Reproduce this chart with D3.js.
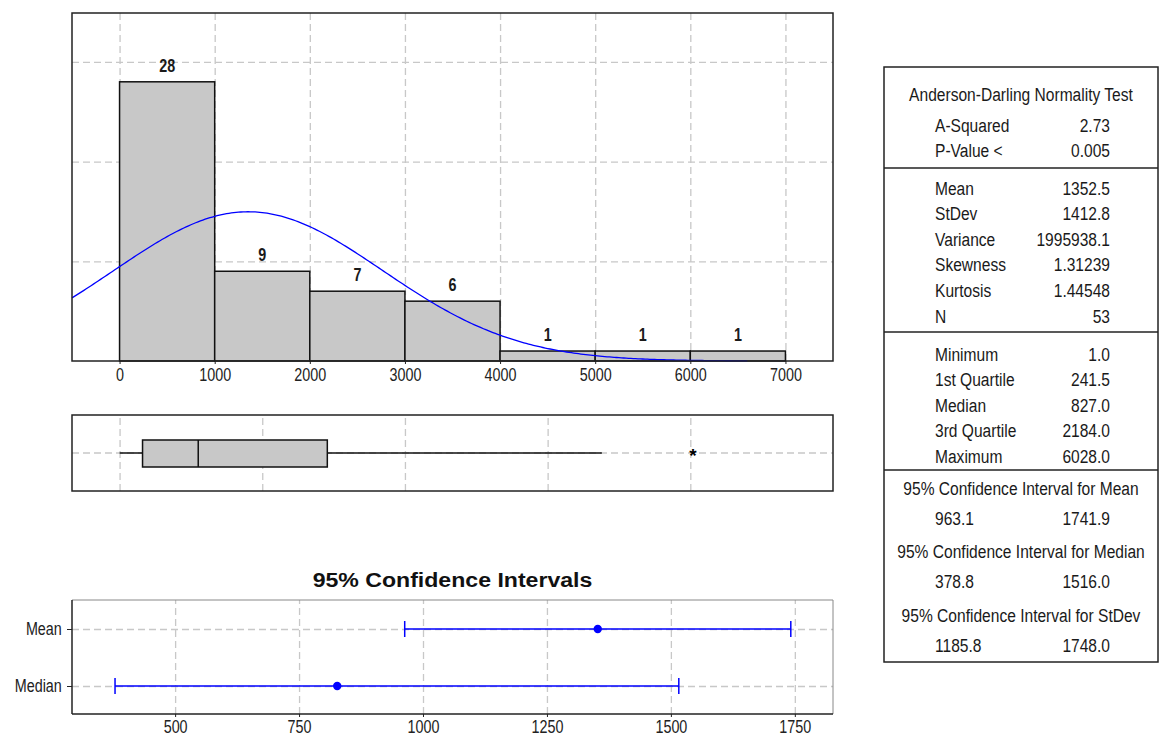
<!DOCTYPE html>
<html>
<head>
<meta charset="utf-8">
<script src="https://cdn.jsdelivr.net/npm/d3@7"></script>
<style>
  body { margin: 0; background: #fff; }
  svg { font-family: "Liberation Sans", Arial, sans-serif; }
  .grid line { stroke: #c8c8c8; stroke-width: 1.3; stroke-dasharray: 7,4; }
  .grid path { display: none; }
  .axis path { display: none; }
  .axis line { stroke: #222; }
  .axis text { font-size: 17.5px; fill: #222; }
</style>
</head>
<body>
<svg id="chart" width="1159" height="738"></svg>
<script>
// histogram
var binEdges = [0, 1000, 2000, 3000, 4000, 5000, 6000, 7000];
var binCounts = [28, 9, 7, 6, 1, 1, 1];
var histTicks = [0, 1000, 2000, 3000, 4000, 5000, 6000, 7000];
var countGrid = [10, 20, 30];

// normal fit (from the summary stats)
var fitMean = 1352.5, fitStDev = 1412.8, fitN = 53, binWidth = 1000;

// boxplot
var boxStats = { min: 1, q1: 241.5, median: 827, q3: 2184, whiskerHi: 5070 };
var outliers = [6028];
var boxGrid = [0, 1500, 3000, 4500, 6000];

// confidence intervals
var ciRows = ["Mean", "Median"];
var ciLow = [963.1, 378.8];
var ciHigh = [1741.9, 1516.0];
var ciEst = [1352.5, 827.0];
var ciTicks = [500, 750, 1000, 1250, 1500, 1750];

// summary table
var adLabels = ["A-Squared", "P-Value <"];
var adValues = ["2.73", "0.005"];
var momentLabels = ["Mean", "StDev", "Variance", "Skewness", "Kurtosis", "N"];
var momentValues = ["1352.5", "1412.8", "1995938.1", "1.31239", "1.44548", "53"];
var quartLabels = ["Minimum", "1st Quartile", "Median", "3rd Quartile", "Maximum"];
var quartValues = ["1.0", "241.5", "827.0", "2184.0", "6028.0"];
var ciTitles = ["95% Confidence Interval for Mean", "95% Confidence Interval for Median", "95% Confidence Interval for StDev"];
var ciTableLow = ["963.1", "378.8", "1185.8"];
var ciTableHigh = ["1741.9", "1516.0", "1748.0"];

var svg = d3.select('#chart');
var left = 72, right = 833;
var squeeze = 'scale(0.82,1)';   // the original font is a narrow one

// narrow text helper
function ntext(parent, px, py, str, size, anchor, weight) {
    return parent.append('text')
        .attr('transform', 'translate(' + px + ',' + py + ') ' + squeeze)
        .attr('dy', '0.35em')
        .attr('text-anchor', anchor || 'start')
        .attr('font-size', size + 'px')
        .attr('font-weight', weight || 'normal')
        .attr('fill', '#1a1a1a')
        .text(str);
}

// ---------- histogram ----------
var hTop = 13, hBot = 361;
var x = d3.scaleLinear().domain([-500, 7500]).range([left, right]);
var y = d3.scaleLinear().domain([0, 34.9]).range([hBot, hTop]);

svg.append('g').attr('class', 'grid')
    .attr('transform', 'translate(0,' + hBot + ')')
    .call(d3.axisBottom(x).tickValues(histTicks).tickSize(-(hBot - hTop)).tickFormat(''));
svg.append('g').attr('class', 'grid')
    .attr('transform', 'translate(' + left + ',0)')
    .call(d3.axisLeft(y).tickValues(countGrid).tickSize(-(right - left)).tickFormat(''));

var bins = binCounts.map(function (c, i) { return { x0: binEdges[i], x1: binEdges[i + 1], n: c }; });
svg.selectAll('rect.bar').data(bins).enter().append('rect')
    .attr('class', 'bar')
    .attr('x', function (d) { return x(d.x0); })
    .attr('y', function (d) { return y(d.n); })
    .attr('width', function (d) { return x(d.x1) - x(d.x0); })
    .attr('height', function (d) { return y(0) - y(d.n); })
    .attr('fill', '#c8c8c8')
    .attr('stroke', '#111')
    .attr('stroke-width', 1.5);

bins.forEach(function (d) {
    ntext(svg, x((d.x0 + d.x1) / 2), y(d.n) - 16, d.n, 17.5, 'middle', 'bold');
});

var curveX = d3.range(-500, 6601, 25);
var line = d3.line()
    .x(function (v) { return x(v); })
    .y(function (v) {
        var z = (v - fitMean) / fitStDev;
        return y(fitN * binWidth * Math.exp(-0.5 * z * z) / (fitStDev * Math.sqrt(2 * Math.PI)));
    });
svg.append('path').datum(curveX)
    .attr('d', line)
    .attr('fill', 'none')
    .attr('stroke', '#0000ff')
    .attr('stroke-width', 1.3);

svg.append('rect').attr('x', left).attr('y', hTop).attr('width', right - left).attr('height', hBot - hTop)
    .attr('fill', 'none').attr('stroke', '#222').attr('stroke-width', 1.5);

svg.append('g').attr('class', 'axis')
    .attr('transform', 'translate(0,' + hBot + ')')
    .call(d3.axisBottom(x).tickValues(histTicks).tickSize(3).tickPadding(5).tickFormat(d3.format('d')))
    .selectAll('text').attr('transform', squeeze);

// ---------- boxplot ----------
var bTop = 415, bBot = 491, bMid = (bTop + bBot) / 2;
svg.append('g').attr('class', 'grid')
    .attr('transform', 'translate(0,' + bBot + ')')
    .call(d3.axisBottom(x).tickValues(boxGrid).tickSize(-(bBot - bTop)).tickFormat(''));
svg.append('line').attr('x1', left).attr('x2', right).attr('y1', bMid).attr('y2', bMid)
    .attr('stroke', '#c8c8c8').attr('stroke-width', 1.3).attr('stroke-dasharray', '7,4');

svg.append('line').attr('x1', x(boxStats.min)).attr('x2', x(boxStats.q1)).attr('y1', bMid).attr('y2', bMid)
    .attr('stroke', '#111').attr('stroke-width', 1.5);
svg.append('line').attr('x1', x(boxStats.q3)).attr('x2', x(boxStats.whiskerHi)).attr('y1', bMid).attr('y2', bMid)
    .attr('stroke', '#111').attr('stroke-width', 1.5);
svg.append('rect').attr('x', x(boxStats.q1)).attr('y', bMid - 13)
    .attr('width', x(boxStats.q3) - x(boxStats.q1)).attr('height', 27)
    .attr('fill', '#c8c8c8').attr('stroke', '#111').attr('stroke-width', 1.5);
svg.append('line').attr('x1', x(boxStats.median)).attr('x2', x(boxStats.median))
    .attr('y1', bMid - 13).attr('y2', bMid + 14).attr('stroke', '#111').attr('stroke-width', 1.5);
svg.selectAll('text.out').data(outliers).enter().append('text')
    .attr('class', 'out')
    .attr('x', function (d) { return x(d); })
    .attr('y', bMid + 9)
    .attr('text-anchor', 'middle')
    .attr('font-size', '19px')
    .attr('font-weight', 'bold')
    .text('*');
svg.append('rect').attr('x', left).attr('y', bTop).attr('width', right - left).attr('height', bBot - bTop)
    .attr('fill', 'none').attr('stroke', '#222').attr('stroke-width', 1.5);

// ---------- confidence intervals ----------
var cTop = 600, cBot = 714;
var cx = d3.scaleLinear().domain([292, 1825]).range([left, right - 1]);
var cy = d3.scalePoint().domain(ciRows).range([629, 686]);

svg.append('text')
    .attr('transform', 'translate(' + ((left + right) / 2) + ',587) scale(1.1,1)')
    .attr('text-anchor', 'middle').attr('font-size', '21px').attr('font-weight', 'bold')
    .attr('fill', '#111').text('95% Confidence Intervals');

svg.append('g').attr('class', 'grid')
    .attr('transform', 'translate(0,' + cBot + ')')
    .call(d3.axisBottom(cx).tickValues(ciTicks).tickSize(-(cBot - cTop)).tickFormat(''));
svg.append('g').attr('class', 'grid')
    .attr('transform', 'translate(' + left + ',0)')
    .call(d3.axisLeft(cy).tickSize(-(right - left)).tickFormat(''));

ciRows.forEach(function (r, i) {
    var yy = cy(r);
    var g = svg.append('g').attr('stroke', '#0000ff').attr('stroke-width', 1.5);
    g.append('line').attr('x1', cx(ciLow[i])).attr('x2', cx(ciHigh[i])).attr('y1', yy).attr('y2', yy);
    g.append('line').attr('x1', cx(ciLow[i])).attr('x2', cx(ciLow[i])).attr('y1', yy - 8).attr('y2', yy + 8);
    g.append('line').attr('x1', cx(ciHigh[i])).attr('x2', cx(ciHigh[i])).attr('y1', yy - 8).attr('y2', yy + 8);
    svg.append('circle').attr('cx', cx(ciEst[i])).attr('cy', yy).attr('r', 4.2).attr('fill', '#0000ff');
});

svg.append('line').attr('x1', left).attr('x2', right).attr('y1', cTop).attr('y2', cTop).attr('stroke', '#888').attr('stroke-width', 1);
svg.append('line').attr('x1', right).attr('x2', right).attr('y1', cTop).attr('y2', cBot).attr('stroke', '#888').attr('stroke-width', 1);
svg.append('line').attr('x1', left).attr('x2', left).attr('y1', cTop).attr('y2', cBot).attr('stroke', '#222').attr('stroke-width', 1.5);
svg.append('line').attr('x1', left).attr('x2', right).attr('y1', cBot).attr('y2', cBot).attr('stroke', '#222').attr('stroke-width', 1.5);

svg.append('g').attr('class', 'axis')
    .attr('transform', 'translate(0,' + cBot + ')')
    .call(d3.axisBottom(cx).tickValues(ciTicks).tickSize(3).tickPadding(4).tickFormat(d3.format('d')))
    .selectAll('text').attr('transform', squeeze);
svg.append('g').attr('class', 'axis')
    .attr('transform', 'translate(' + left + ',0)')
    .call(d3.axisLeft(cy).tickSize(5).tickPadding(5))
    .selectAll('text').attr('transform', 'translate(-2,0) ' + squeeze).attr('font-size', '18px');

// ---------- summary table ----------
var tL = 884, tR = 1158, tTop = 67, tBot = 662;
var labX = 935, valX = 1110, midX = 1021, step = 25.6, fs = 19;
var tbl = svg.append('g');
svg.append('rect').attr('x', tL).attr('y', tTop).attr('width', tR - tL).attr('height', tBot - tTop)
    .attr('fill', 'none').attr('stroke', '#222').attr('stroke-width', 1.5);
[168, 332, 470].forEach(function (yy) {
    svg.append('line').attr('x1', tL).attr('x2', tR).attr('y1', yy).attr('y2', yy)
        .attr('stroke', '#222').attr('stroke-width', 1.5);
});

function rows(labels, values, y0) {
    labels.forEach(function (l, i) {
        ntext(tbl, labX, y0 + i * step, l, fs);
        ntext(tbl, valX, y0 + i * step, values[i], fs, 'end');
    });
}
ntext(tbl, midX, 94, 'Anderson-Darling Normality Test', fs, 'middle');
rows(adLabels, adValues, 125);
rows(momentLabels, momentValues, 188);
rows(quartLabels, quartValues, 354);
ciTitles.forEach(function (t, i) {
    var y0 = 488 + i * 63.5;
    ntext(tbl, midX, y0, t, fs, 'middle');
    ntext(tbl, labX, y0 + 30, ciTableLow[i], fs);
    ntext(tbl, valX, y0 + 30, ciTableHigh[i], fs, 'end');
});
</script>
</body>
</html>
